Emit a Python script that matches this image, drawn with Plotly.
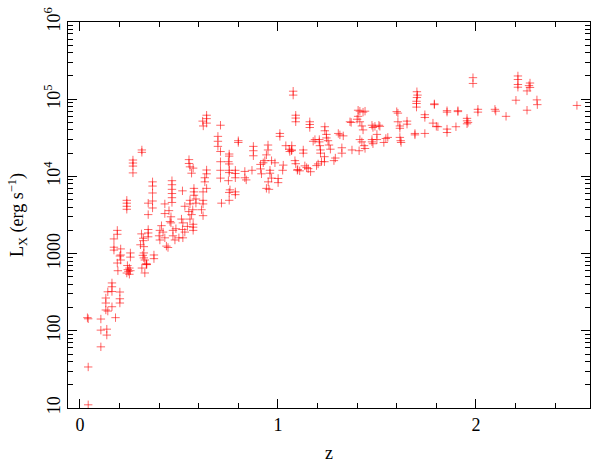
import plotly.graph_objects as go

# redshift and X-ray luminosity
z = [
    # z < 0.2
    0.038, 0.042, 0.042, 0.042, 0.106, 0.106, 0.136, 0.136, 0.106, 0.18,
    0.131, 0.131, 0.131, 0.141, 0.141, 0.162, 0.162, 0.162, 0.162,
    0.172, 0.172, 0.172, 0.189, 0.189, 0.189,
    # 0.19 - 0.38, low branch
    0.202, 0.202, 0.202, 0.192, 0.202, 0.206, 0.206, 0.206,
    0.237, 0.242, 0.25, 0.25, 0.255, 0.245, 0.24, 0.255, 0.255,
    0.311, 0.32, 0.32, 0.306, 0.323, 0.323, 0.323, 0.336, 0.336,
    0.318, 0.328, 0.338, 0.313, 0.328, 0.345, 0.345, 0.345, 0.374, 0.374,
    # high branch at low z
    0.313, 0.313, 0.268, 0.268, 0.268, 0.268, 0.237, 0.237, 0.237, 0.237,
    # 0.34 - 0.5
    0.345, 0.345, 0.367, 0.367, 0.367, 0.367, 0.367,
    0.429, 0.429, 0.45, 0.465, 0.465, 0.465, 0.465, 0.465, 0.465, 0.455, 0.46,
    0.412, 0.404, 0.4, 0.404, 0.42, 0.429, 0.437, 0.445, 0.46, 0.47, 0.47,
    0.485, 0.48, 0.5,
    # 0.5 - 0.6
    0.518, 0.513, 0.52, 0.518, 0.53, 0.52, 0.543, 0.572,
    0.556, 0.556, 0.57, 0.564, 0.556, 0.572, 0.53, 0.572, 0.55,
    0.551, 0.551, 0.556, 0.572, 0.564, 0.576, 0.576, 0.576, 0.586, 0.586,
    # 0.6 - 0.72
    0.622, 0.622, 0.622, 0.614, 0.622, 0.64, 0.64, 0.631, 0.631, 0.64,
    0.64, 0.64, 0.64, 0.623, 0.62, 0.71, 0.697, 0.697, 0.697, 0.71,
    0.71, 0.71, 0.71, 0.715,
    # 0.74 - 1.0
    0.8, 0.8, 0.754, 0.754, 0.75, 0.754, 0.754, 0.754, 0.785, 0.785, 0.785,
    0.833, 0.833, 0.75, 0.758, 0.754, 0.785, 0.785, 0.754, 0.84,
    0.876, 0.876, 0.876, 0.869, 0.912, 0.912, 0.917, 0.934, 0.926,
    0.95, 0.95, 0.942, 0.968, 0.985, 0.96, 0.96, 0.968, 0.951, 0.942, 0.955,
    # 1.0 - 1.35
    1.01, 1.01, 1.04, 1.057, 1.06, 1.069, 1.001, 1.001, 1.024, 1.027,
    1.077, 1.077, 1.09, 1.09, 1.09, 1.086, 1.09, 1.098, 1.07, 1.07, 1.1, 1.11,
    1.128, 1.128, 1.136, 1.145, 1.153, 1.165, 1.161, 1.161, 1.161,
    1.178, 1.187, 1.195, 1.203, 1.209, 1.209, 1.212, 1.215, 1.215, 1.22,
    1.235, 1.235, 1.237, 1.237, 1.245, 1.245, 1.253, 1.258, 1.265,
    1.283, 1.29, 1.305, 1.313, 1.33, 1.323, 1.323,
    # 1.35 - 2.6
    1.374, 1.364, 1.37, 1.4, 1.405, 1.405, 1.414, 1.43, 1.44,
    1.414, 1.424, 1.43, 1.414, 1.424, 1.435, 1.44, 1.41,
    1.475, 1.48, 1.49, 1.475, 1.475, 1.48, 1.5, 1.5, 1.51, 1.515,
    1.545, 1.555, 1.535, 1.6, 1.606, 1.606, 1.616, 1.616, 1.616, 1.62, 1.622,
    1.652, 1.652, 1.692, 1.692, 1.702, 1.705, 1.702, 1.7, 1.7, 1.7,
    1.742, 1.742, 1.742, 1.783, 1.8, 1.808, 1.79, 1.79,
    1.854, 1.854, 1.854, 1.854, 1.899, 1.909, 1.909,
    1.955, 1.955, 1.96, 1.955, 1.985, 1.985, 2.01, 2.01, 2.096, 2.1, 2.152,
    2.202, 2.212, 2.212, 2.212, 2.212, 2.258, 2.268, 2.273, 2.273, 2.258,
    2.308, 2.31, 2.51,
]

lx = [
    148, 143, 34, 11, 142, 102, 105, 88, 62, 148,
    266, 229, 186, 180, 320, 417, 372, 323, 205,
    1550, 1210, 1110, 2000, 1780, 755,
    318, 260, 229, 600, 930, 1150, 960, 826,
    560, 620, 650, 540, 600, 590, 700, 1020, 900,
    1800, 1580, 1470, 1300, 1230, 1020, 880, 740, 720,
    950, 826, 725, 650, 561, 2050, 1850, 1650, 960, 860,
    22000, 20500, 16300, 14900, 13600, 11100, 4900, 4500, 4100, 3750,
    4500, 3200, 8500, 7500, 6100, 4800, 3900,
    4400, 3300, 3600, 8800, 7800, 6800, 6000, 5300, 4600, 2600, 3000,
    2300, 2000, 1700, 1500, 1900, 1600, 1250, 1200, 2500, 2000, 1700,
    2100, 1500, 1600,
    6500, 2800, 2500, 2050, 1900, 1600, 2250, 2000,
    4900, 4400, 3700, 3200, 2800, 2400, 4100, 2200, 3500,
    16500, 14700, 13300, 12800, 11000, 7000, 6300, 5700, 5100, 4500,
    6300, 4900, 4400, 3700, 3100, 12100, 10800, 9600, 8500, 7000,
    62000, 56000, 49000, 45000, 52000, 46000, 33000, 28500, 24500, 21000,
    15500, 12000, 9500, 4500,
    29000, 27500, 19500, 18300, 15500, 14500, 12000, 11200, 12000, 10900, 9600,
    11600, 9600, 8800, 6700, 6200, 6300, 5800, 4900, 9000,
    24500, 21500, 18500, 12000, 14300, 12500, 10800, 16000, 15000,
    25500, 22000, 19000, 16000, 15000, 12000, 11000, 9500, 8500, 7000, 6800,
    36000, 33000, 25000, 22500, 21000, 21500, 9400, 8300, 12000, 14000,
    127000, 113000, 62000, 57000, 51000, 16000, 14600, 12000, 25000, 22000, 12300, 11800,
    22000, 20000, 13700, 13000, 12600, 11500, 51000, 47000, 43000,
    28500, 30000, 13800, 14500, 30000, 28000, 25000, 22000, 20000, 15500,
    18000, 15500, 44000, 39000, 35000, 31500, 29000, 25500, 22500,
    16000, 17300, 36000, 34500, 33500, 23500, 20000,
    22000, 51000, 50000, 55000, 60000, 72000, 70000, 68000, 70000,
    51000, 45000, 40000, 30000, 28000, 25000, 23000, 21500,
    46000, 43000, 44500, 30000, 28000, 26500, 35000, 30000, 46000, 44500,
    31000, 32000, 27500, 69000, 66000, 51000, 45000, 42000, 32000, 29000, 27500,
    52000, 47500, 36000, 34500, 125000, 113000, 105000, 94000, 88000, 79000,
    63000, 58000, 36000, 49000, 44500, 44000, 87000, 85000,
    71000, 68000, 41000, 37000, 44000, 71000, 69000,
    56500, 52500, 50000, 48000, 190000, 160000, 74000, 68000, 74000, 70000, 60000,
    97000, 200000, 180000, 155000, 143000, 128000, 150000, 162000, 142000, 72000,
    98000, 85000, 83000,
]

y_tickvals = [10, 100, 1000, 1e4, 1e5, 1e6]
y_ticktext = ["10", "100", "1000", "10<sup>4</sup>", "10<sup>5</sup>", "10<sup>6</sup>"]
x_tickvals = [0, 1, 2]

fig = go.Figure()
fig.add_trace(go.Scatter(
    x=z, y=lx, mode="markers",
    marker=dict(symbol="cross-thin", size=6,
                line=dict(width=1, color="rgba(255,0,0,0.6)")),
    showlegend=False,
))

font = dict(family="Liberation Serif, Times New Roman, serif", size=18, color="black")

fig.update_xaxes(
    range=[-0.06, 2.576], tickvals=x_tickvals, ticktext=["0", "1", "2"],
    ticks="inside", ticklen=9, tickwidth=1, tickcolor="black",
    minor=dict(ticks="inside", ticklen=5, dtick=0.2, tickcolor="black", showgrid=False),
    showline=True, linecolor="black", linewidth=1.3, mirror="allticks",
    showgrid=False, zeroline=False, automargin=False,
    title=dict(text="z", font=font, standoff=12), tickfont=font,
)
fig.update_yaxes(
    type="log", range=[1, 6], tickvals=y_tickvals, ticktext=y_ticktext,
    tickangle=-90,
    ticks="inside", ticklen=9, tickwidth=1, tickcolor="black",
    minor=dict(ticks="inside", ticklen=5, dtick="D1", tickcolor="black", showgrid=False),
    showline=True, linecolor="black", linewidth=1.3, mirror="allticks",
    showgrid=False, zeroline=False, automargin=False,
    title=dict(text="L<sub>X</sub> (erg s<sup>−1</sup>)", font=font, standoff=12),
    tickfont=font,
)

fig.update_layout(
    width=598, height=467,
    margin=dict(l=68, r=8, t=22, b=59),
    paper_bgcolor="white", plot_bgcolor="white",
    font=font,
)

# drop the browser's default 8px body margin so the figure sits at the window origin
fig.write_html("out.html", config={"displayModeBar": False},
               post_script="document.body.style.margin = '0px';")
